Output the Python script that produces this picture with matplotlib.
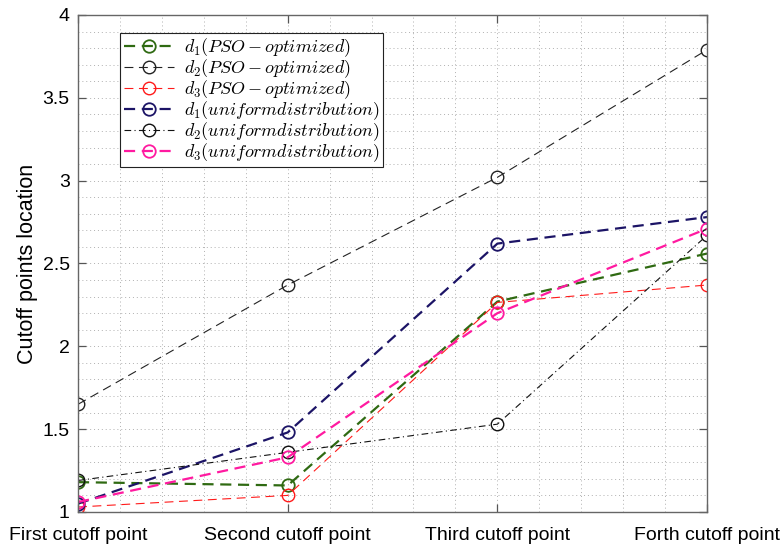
import matplotlib
matplotlib.use("Agg")
import matplotlib.pyplot as plt
from matplotlib.ticker import MultipleLocator

plt.rcParams['font.family'] = ['Liberation Sans', 'DejaVu Sans']
plt.rcParams['mathtext.fontset'] = 'cm'

categories = ["First cutoff point", "Second cutoff point", "Third cutoff point", "Forth cutoff point"]
x = [1, 2, 3, 4]

d1_pso = [1.18, 1.16, 2.27, 2.56]
d2_pso = [1.65, 2.37, 3.02, 3.79]
d3_pso = [1.03, 1.10, 2.265, 2.37]
d1_uni = [1.05, 1.48, 2.62, 2.78]
d2_uni = [1.19, 1.36, 1.53, 2.67]
d3_uni = [1.06, 1.33, 2.20, 2.71]

labels = [r"$d_1(PSO-optimized)$", r"$d_2(PSO-optimized)$", r"$d_3(PSO-optimized)$",
          r"$d_1(uniformdistribution)$", r"$d_2(uniformdistribution)$", r"$d_3(uniformdistribution)$"]

fig = plt.figure(figsize=(7.81, 5.45), dpi=100)
ax = fig.add_axes([0.0999, 0.0606, 0.8054, 0.9119])

green = "#2f6a12"
navy = "#1c1466"
magenta = "#ff1aa0"
red = "#ff1a1a"

ms = 9
ax.plot(x, d1_pso, color=green, ls=(0, (5, 3)), lw=1.6, marker='o', mfc='none', ms=ms, mew=1.3, label=labels[0])
ax.plot(x, d2_pso, color="#222222", ls=(0, (8, 5)), lw=0.8, marker='o', mfc='none', ms=ms, mew=1.0, label=labels[1])
ax.plot(x, d3_pso, color=red, ls=(0, (8, 5)), lw=0.8, marker='o', mfc='none', ms=ms, mew=1.0, label=labels[2])
ax.plot(x, d1_uni, color=navy, ls=(0, (5, 3)), lw=1.6, marker='o', mfc='none', ms=ms, mew=1.3, label=labels[3])
ax.plot(x, d2_uni, color="#111111", ls=(0, (6, 3, 1, 3)), lw=0.8, marker='o', mfc='none', ms=ms, mew=1.0, label=labels[4])
ax.plot(x, d3_uni, color=magenta, ls=(0, (5, 3)), lw=1.6, marker='o', mfc='none', ms=ms, mew=1.3, label=labels[5])

ax.set_xlim(1, 4)
ax.set_ylim(1, 4)
ax.set_xticks(x)
ax.set_xticklabels(categories, fontsize=14)
ax.set_yticks([1, 1.5, 2, 2.5, 3, 3.5, 4])
ax.set_yticklabels(["1", "1.5", "2", "2.5", "3", "3.5", "4"], fontsize=14)
ax.xaxis.set_minor_locator(MultipleLocator(0.2))
ax.yaxis.set_minor_locator(MultipleLocator(0.1))
ax.tick_params(which='major', direction='in', length=6, top=True, right=True, color='#555555', width=0.9)
ax.tick_params(axis='x', which='major', pad=11)
ax.tick_params(axis='y', which='major', pad=6)
ax.tick_params(which='minor', length=0)
ax.grid(which='both', ls=(0, (1, 3)), color='#b0b0b0', lw=0.7)
ax.set_axisbelow(True)
for s in ax.spines.values():
    s.set_color('#666666')
    s.set_linewidth(1.0)

ax.set_ylabel("Cutoff points location", fontsize=15.5, labelpad=3)

leg = ax.legend(loc='upper left', bbox_to_anchor=(0.067, 0.964), fontsize=13, fancybox=False,
                edgecolor='#222222', framealpha=1, handlelength=2.8, borderpad=0.2,
                labelspacing=-0.1, handletextpad=0.55, borderaxespad=0)
leg.get_frame().set_linewidth(0.8)

fig.savefig("out.png", dpi=100)
